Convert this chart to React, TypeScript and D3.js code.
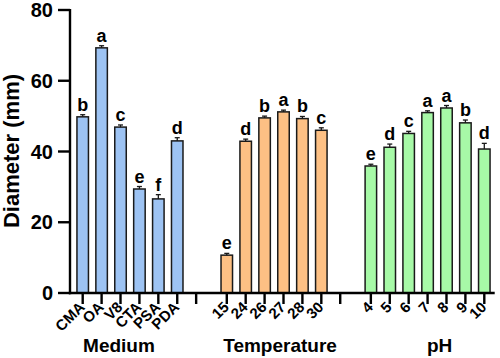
import * as d3 from "d3";

// Mycelial growth diameter by group
const mediumLabels = ["CMA", "OA", "V8", "CTA", "PSA", "PDA"];
const mediumValues = [49.8, 69.3, 46.9, 29.4, 26.6, 43.0];
const mediumErrors = [0.6, 0.6, 0.6, 0.7, 1.2, 0.9];
const mediumLetters = ["b", "a", "c", "e", "f", "d"];

const tempLabels = ["15", "24", "26", "27", "28", "30"];
const tempValues = [10.7, 42.9, 49.5, 51.2, 49.3, 46.0];
const tempErrors = [0.5, 0.6, 0.5, 0.5, 0.6, 0.7];
const tempLetters = ["e", "d", "b", "a", "b", "c"];

const phLabels = ["4", "5", "6", "7", "8", "9", "10"];
const phValues = [35.9, 41.2, 45.1, 51.0, 52.3, 48.1, 40.7];
const phErrors = [0.5, 0.9, 0.6, 0.5, 0.7, 0.8, 1.6];
const phLetters = ["e", "d", "c", "a", "a", "b", "d"];

const yTicks = [0, 20, 40, 60, 80];

const groups = [
  { name: "Medium", labels: mediumLabels, values: mediumValues, errors: mediumErrors, letters: mediumLetters, color: "#9dc3f3", titleShift: -11 },
  { name: "Temperature", labels: tempLabels, values: tempValues, errors: tempErrors, letters: tempLetters, color: "#fdc084", titleShift: 6 },
  { name: "pH", labels: phLabels, values: phValues, errors: phErrors, letters: phLetters, color: "#a7f9a7", titleShift: 12 },
];

const GAP = 0.62;
const FONT = "'Liberation Sans', Arial, sans-serif";

export default function App() {
  const width = 500;
  const height = 358;
  const axisX = 70;

  // slot positions: each group gets n bars + one empty tick, then a gap
  let start = 0;
  const laid = groups.map((g) => {
    const slots = g.labels.map((_, i) => start + i);
    const emptySlot = start + g.labels.length;
    start = emptySlot + 1 + GAP;
    return { ...g, slots, emptySlot };
  });
  const lastSlot = laid[laid.length - 1].emptySlot - 1;

  const x = d3.scaleLinear().domain([0, lastSlot]).range([82.7, 484.3]);
  const y = d3.scaleLinear().domain([0, 80]).range([293, 10]);
  const step = x(1) - x(0);
  const barW = 11.5;

  return (
    <svg width={width} height={height} style={{ position: "absolute", left: 0, top: 0 }} fontFamily={FONT} fontWeight="bold">
      <rect width={width} height={height} fill="#fff" />

      {/* bars */}
      {laid.map((g) =>
        g.values.map((v, i) => {
          const cx = x(g.slots[i]);
          const top = y(v + g.errors[i]);
          return (
            <g key={g.name + i}>
              <rect x={cx - barW / 2} y={y(v)} width={barW} height={y(0) - y(v)} fill={g.color} stroke="#1a1a1a" strokeWidth={1.5} />
              <line x1={cx} x2={cx} y1={y(v)} y2={top} stroke="#1a1a1a" strokeWidth={1.3} />
              <line x1={cx - 2.5} x2={cx + 2.5} y1={top} y2={top} stroke="#1a1a1a" strokeWidth={1.3} />
              <text x={cx} y={top - 4} textAnchor="middle" fontSize={18} fill="#000">
                {g.letters[i]}
              </text>
            </g>
          );
        })
      )}

      {/* y axis */}
      <line x1={axisX} x2={axisX} y1={y(80) - 1} y2={y(0) + 1.2} stroke="#000" strokeWidth={2.4} />
      {yTicks.map((t) => (
        <g key={t}>
          <line x1={axisX - 12} x2={axisX} y1={y(t)} y2={y(t)} stroke="#000" strokeWidth={2.4} />
          <text x={axisX - 17} y={y(t)} dy="0.36em" textAnchor="end" fontSize={20}>
            {t}
          </text>
        </g>
      ))}
      <text transform={`translate(19,151) rotate(-90)`} textAnchor="middle" fontSize={22}>
        Diameter (mm)
      </text>

      {/* x axis */}
      <line x1={axisX - 1.2} x2={x(lastSlot) + step * 0.55} y1={y(0)} y2={y(0)} stroke="#000" strokeWidth={2.4} />
      {laid.map((g) => (
        <g key={g.name}>
          {[...g.slots, g.emptySlot].filter((s) => !(g.name === "pH" && s === g.emptySlot)).map((s) => (
            <line key={s} x1={x(s)} x2={x(s)} y1={y(0)} y2={y(0) + 11} stroke="#000" strokeWidth={2.4} />
          ))}
          {g.labels.map((l, i) => (
            <text key={l} transform={`translate(${x(g.slots[i]) + 3},${y(0) + 15}) rotate(-45)`} textAnchor="end" fontSize={15}>
              {l}
            </text>
          ))}
          <text x={(x(g.slots[0]) + x(g.slots[g.slots.length - 1])) / 2 + g.titleShift} y={352} textAnchor="middle" fontSize={19}>
            {g.name}
          </text>
        </g>
      ))}
    </svg>
  );
}
